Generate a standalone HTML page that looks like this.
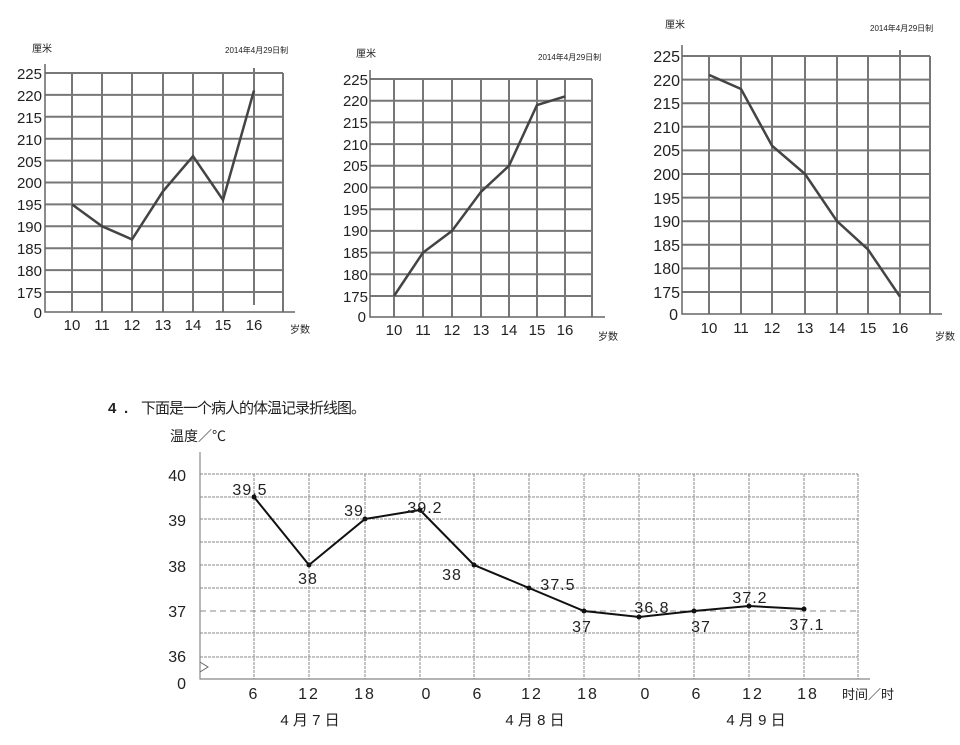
<!DOCTYPE html>
<html><head><meta charset="utf-8"><style>
html,body{margin:0;padding:0;background:#fff;}
svg{display:block;}
text{font-family:"Liberation Sans","Noto Sans CJK SC",sans-serif;fill:#222;}
</style></head><body>
<svg width="960" height="745" viewBox="0 0 960 745" xmlns="http://www.w3.org/2000/svg">
<!-- Chart 1 -->
<g stroke="#777" stroke-width="2" fill="none">
<path d="M45 73H283M45 94.9H283M45 116.8H283M45 138.7H283M45 160.6H283M45 182.5H283M45 204.4H283M45 226.3H283M45 248.2H283M45 270.1H283M45 292H283"/>
<path d="M72 73V312M102 73V312M132 73V312M163 73V312M193 73V312M223 73V312M254 68V305M283 73V312"/>
</g>
<path d="M45 64V312H295" stroke="#666" stroke-width="1.5" fill="none"/>
<polyline points="72,204.4 102,226.3 132,239.4 163,191.3 193,156.2 223,200 254,90.5" stroke="#444" stroke-width="2.5" fill="none"/>
<g font-size="15" text-anchor="end">
<text x="42" y="79">225</text><text x="42" y="101">220</text><text x="42" y="123">215</text><text x="42" y="145">210</text><text x="42" y="167">205</text><text x="42" y="188">200</text><text x="42" y="210">195</text><text x="42" y="232">190</text><text x="42" y="254">185</text><text x="42" y="276">180</text><text x="42" y="298">175</text><text x="42" y="318">0</text>
</g>
<g font-size="15" text-anchor="middle">
<text x="72" y="330">10</text><text x="102" y="330">11</text><text x="132" y="330">12</text><text x="163" y="330">13</text><text x="193" y="330">14</text><text x="223" y="330">15</text><text x="254" y="330">16</text>
</g>
<text x="32" y="52" font-size="10">厘米</text>
<text x="225" y="53" font-size="8">2014年4月29日制</text>
<text x="290" y="333" font-size="10">岁数</text>

<!-- Chart 2 -->
<g stroke="#777" stroke-width="2" fill="none">
<path d="M370 79H592M370 100.7H592M370 122.4H592M370 144.1H592M370 165.8H592M370 187.5H592M370 209.2H592M370 230.9H592M370 252.6H592M370 274.3H592M370 296H592"/>
<path d="M394 79V317M423 79V317M452 79V317M481 79V317M509 79V317M537 79V317M565 79V317M592 79V317"/>
</g>
<path d="M370 70V317H605" stroke="#666" stroke-width="1.5" fill="none"/>
<polyline points="394,296 423,252.6 452,230.9 481,191.8 509,165.8 537,105 565,96.4" stroke="#444" stroke-width="2.5" fill="none"/>
<g font-size="15" text-anchor="end">
<text x="368" y="85">225</text><text x="368" y="106">220</text><text x="368" y="128">215</text><text x="368" y="150">210</text><text x="368" y="171">205</text><text x="368" y="193">200</text><text x="368" y="215">195</text><text x="368" y="236">190</text><text x="368" y="258">185</text><text x="368" y="280">180</text><text x="368" y="302">175</text><text x="366" y="322">0</text>
</g>
<g font-size="15" text-anchor="middle">
<text x="394" y="335">10</text><text x="423" y="335">11</text><text x="452" y="335">12</text><text x="481" y="335">13</text><text x="509" y="335">14</text><text x="537" y="335">15</text><text x="565" y="335">16</text>
</g>
<text x="356" y="57" font-size="10">厘米</text>
<text x="538" y="60" font-size="8">2014年4月29日制</text>
<text x="598" y="340" font-size="10">岁数</text>

<!-- Chart 3 -->
<g stroke="#777" stroke-width="2" fill="none">
<path d="M682 56H930M682 79.6H930M682 103.2H930M682 126.8H930M682 150.4H930M682 174H930M682 197.6H930M682 221.2H930M682 244.8H930M682 268.4H930M682 292H930"/>
<path d="M709 56V314M741 56V314M772 56V314M805 56V314M837 56V314M868 56V314M900 50V314M930 56V314"/>
</g>
<path d="M682 45V314H942" stroke="#666" stroke-width="1.5" fill="none"/>
<polyline points="709,74.9 741,89 772,145.7 805,174 837,221.2 868,249.5 900,296.7" stroke="#444" stroke-width="2.5" fill="none"/>
<g font-size="16" text-anchor="end">
<text x="680" y="62">225</text><text x="680" y="86">220</text><text x="680" y="109">215</text><text x="680" y="133">210</text><text x="680" y="156">205</text><text x="680" y="180">200</text><text x="680" y="204">195</text><text x="680" y="227">190</text><text x="680" y="251">185</text><text x="680" y="274">180</text><text x="680" y="298">175</text><text x="678" y="320">0</text>
</g>
<g font-size="15" text-anchor="middle">
<text x="709" y="333">10</text><text x="741" y="333">11</text><text x="772" y="333">12</text><text x="805" y="333">13</text><text x="837" y="333">14</text><text x="868" y="333">15</text><text x="900" y="333">16</text>
</g>
<text x="665" y="28" font-size="10">厘米</text>
<text x="870" y="31" font-size="8">2014年4月29日制</text>
<text x="935" y="340" font-size="10">岁数</text>

<!-- Title -->
<text x="108" y="413" font-size="15" font-weight="bold">4</text>
<text x="124" y="413" font-size="15" font-weight="bold">.</text>
<text x="141" y="413" font-size="15" letter-spacing="-1" font-family="Noto Serif CJK SC, serif">下面是一个病人的体温记录折线图。</text>

<!-- Bottom chart -->
<text x="170" y="441" font-size="14" font-family="Noto Serif CJK SC, serif">温度／℃</text>
<g stroke="#888" stroke-width="1" stroke-dasharray="3 1" fill="none">
<path d="M200 474H858M200 497H858M200 519H858M200 542H858M200 565H858M200 588H858M200 633H858M200 657H858"/>
<path d="M254 474V679M309 474V679M365 474V679M420 474V679M474 474V679M529 474V679M584 474V679M639 474V679M694 474V679M749 474V679M804 474V679M858 474V679"/>
</g>
<path d="M200 611H858" stroke="#888" stroke-width="1" stroke-dasharray="6 4"/>
<path d="M200 452V679H870" stroke="#888" stroke-width="1.2" fill="none"/>
<path d="M200 662l8 5-8 5" stroke="#666" fill="none"/>
<polyline points="254,497 309,565 365,519 420,510 474,565 529,588 584,611 639,617 694,611 749,606 804,609" stroke="#111" stroke-width="2" fill="none"/>
<g fill="#111">
<circle cx="254" cy="497" r="2.5"/><circle cx="309" cy="565" r="2.5"/><circle cx="365" cy="519" r="2.5"/><circle cx="420" cy="510" r="2.5"/><circle cx="474" cy="565" r="2.5"/><circle cx="529" cy="588" r="2.5"/><circle cx="584" cy="611" r="2.5"/><circle cx="639" cy="617" r="2.5"/><circle cx="694" cy="611" r="2.5"/><circle cx="749" cy="606" r="2.5"/><circle cx="804" cy="609" r="2.5"/>
</g>
<g font-size="16" text-anchor="end">
<text x="186" y="481">40</text><text x="186" y="526">39</text><text x="186" y="572">38</text><text x="186" y="617">37</text><text x="186" y="662">36</text><text x="186" y="689">0</text>
</g>
<g font-size="16" text-anchor="middle" letter-spacing="1">
<text x="250" y="495">39.5</text><text x="308" y="584">38</text><text x="354" y="516">39</text><text x="425" y="513">39.2</text><text x="452" y="580">38</text><text x="558" y="590">37.5</text><text x="582" y="632">37</text><text x="652" y="613">36.8</text><text x="701" y="632">37</text><text x="750" y="603">37.2</text><text x="807" y="630">37.1</text>
</g>
<g font-size="16" text-anchor="middle" letter-spacing="2">
<text x="254" y="699">6</text><text x="309" y="699">12</text><text x="365" y="699">18</text><text x="427" y="699">0</text><text x="478" y="699">6</text><text x="532" y="699">12</text><text x="588" y="699">18</text><text x="646" y="699">0</text><text x="697" y="699">6</text><text x="753" y="699">12</text><text x="808" y="699">18</text>
</g>
<text x="842" y="699" font-size="13" font-family="Noto Serif CJK SC, serif">时间／时</text>
<g font-size="15" text-anchor="middle" font-family="Noto Serif CJK SC, serif">
<text x="310" y="725">4 月 7 日</text><text x="535" y="725">4 月 8 日</text><text x="756" y="725">4 月 9 日</text>
</g>
</svg>
</body></html>
